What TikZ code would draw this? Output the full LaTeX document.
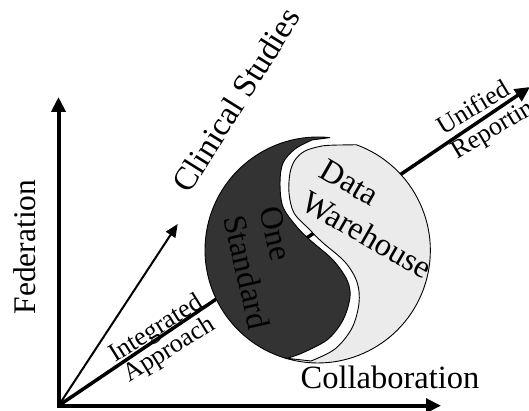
\documentclass[tikz,border=0pt]{standalone}
\usepackage{fontspec}
\setmainfont{Liberation Serif}
\usetikzlibrary{arrows.meta,calc}
\definecolor{yindark}{HTML}{333333}
\definecolor{yinlight}{HTML}{EBEBEB}
\begin{document}
\begin{tikzpicture}[x=1pt,y=1pt,
  axisarrow/.style={line width=4pt,line cap=rect,-{Triangle[length=15pt,width=14pt]}},
  thinarrow/.style={line width=2pt,-{Triangle[length=13pt,width=11pt]}},
  mainline/.style={line width=3.5pt,-{Triangle[length=15pt,width=14pt]}},
  piece/.style={draw=black,line width=0.9pt,line join=round},
  biglabel/.style={inner sep=0pt,font=\fontsize{32.5}{37}\selectfont},
  smalllabel/.style={inner sep=0pt,align=center,font=\fontsize{26}{22}\selectfont},
]
\useasboundingbox (0,0) rectangle (529,411);

\coordinate (O) at (58.5,5.3);
\coordinate (Ytip) at (58.5,314);
\coordinate (Xtip) at (441,5.3);
\coordinate (Ctip) at (177.7,187);
\coordinate (Rtip) at (530,324);
\coordinate (C) at (318,161);

% thick diagonal line behind the yin-yang
\draw[mainline] (O) -- (Rtip);

% dark piece
\path[piece,fill=yindark]
  ($(C)+(84:113)$) arc[start angle=84, end angle=254, radius=113]
  -- plot[smooth,tension=0.55] coordinates {(300,57) (327,71) (343,91) (350,114) (347,131) (333,151) (310,171) (297,184) (283,204) (280,228) (283,248) (295,262) (312,271)}
  -- cycle;

% light piece
\path[piece,fill=yinlight]
  ($(C)+(70:112)$) arc[start angle=70, end angle=-107, radius=112.5]
  -- plot[smooth,tension=0.55] coordinates {(311,50) (335,62) (352,83) (359,108) (357,129) (345,149) (322,169) (309,182) (294,198) (289,218) (290,238) (295,251) (305,260) (322,265) (340,266)}
  -- cycle;

% axes and thin arrow
\draw[axisarrow] (O) -- (Ytip);
\draw[axisarrow] (O) -- (Xtip);
\draw[thinarrow] (O) -- (Ctip);

% labels
\node[biglabel, rotate=90, font=\fontsize{31.5}{36}\selectfont] (fed) at (24.8,164) {Federation};
\node[biglabel] (col) at (390,33.6) {Collaboration};
\node[biglabel, font=\fontsize{33}{38}\selectfont, rotate=58] (clin) at (236,311) {Clinical Studies};
\node[biglabel, rotate=-77, align=left] (one) at (265,143) {One\\Standard};
\node[biglabel, rotate=-30, align=left] (dw) at (376,192) {Data\\Warehouse};
\node[smalllabel, rotate=32] (int) at (163,71) {Integrated\\Approach};
\node[smalllabel, rotate=31, align=left, font=\fontsize{26}{28}\selectfont] (uni) at (492,296) {Unified\\Reporting};
\end{tikzpicture}
\end{document}
